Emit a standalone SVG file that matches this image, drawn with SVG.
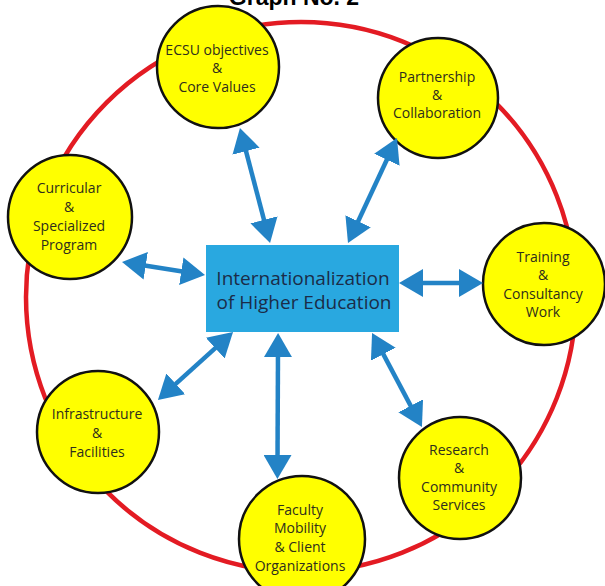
<svg xmlns="http://www.w3.org/2000/svg" width="605" height="586" viewBox="0 0 605 586">
  <defs>
    <marker id="head" viewBox="0 0 24 28" markerUnits="userSpaceOnUse" markerWidth="24" markerHeight="28" refX="6" refY="14" orient="auto-start-reverse">
      <path d="M0,0 L24,14 L0,28 Z" fill="#2383c6"/>
    </marker>
    <style>
      .title { font-family: "Liberation Sans", Arial, sans-serif; font-weight: bold; font-size: 23px; fill: #000; }
      .ring { fill: none; stroke: #e31b23; stroke-width: 4.5; }
      .link { stroke: #2383c6; stroke-width: 4.5; fill: none; marker-start: url(#head); marker-end: url(#head); }
      .hub { fill: #29a8e0; }
      .hub-text { font-family: "Open Sans", "DejaVu Sans", sans-serif; font-size: 19px; fill: #1b2c48; text-anchor: middle; }
      .node circle { fill: #ffff00; stroke: #111; stroke-width: 2.5; }
      .node text { font-family: "Open Sans", "DejaVu Sans", sans-serif; font-size: 14px; fill: #2e2e1c; text-anchor: middle; }
    </style>
  </defs>

  <rect width="605" height="586" fill="#fff"/>

  <text class="title" x="294" y="5" text-anchor="middle">Graph No. 2</text>

  <!-- outer ring -->
  <circle class="ring" cx="301" cy="297" r="275"/>

  <!-- central hub -->
  <g id="hub">
    <rect class="hub" x="206" y="245" width="193" height="87"/>
    <text class="hub-text" x="303" y="285">Internationalization</text>
    <text class="hub-text" x="304" y="309">of Higher Education</text>
  </g>

  <!-- surrounding nodes -->
  <g id="ecsu" class="node">
    <circle cx="218" cy="67" r="61"/>
    <text x="217" y="55">ECSU objectives</text>
    <text x="217" y="73">&amp;</text>
    <text x="217" y="92">Core Values</text>
  </g>

  <g id="partnership" class="node">
    <circle cx="438" cy="98" r="60"/>
    <text x="437" y="82">Partnership</text>
    <text x="437" y="100">&amp;</text>
    <text x="437" y="118">Collaboration</text>
  </g>

  <g id="training" class="node">
    <circle cx="544" cy="284" r="61"/>
    <text x="543" y="262">Training</text>
    <text x="543" y="280">&amp;</text>
    <text x="543" y="299">Consultancy</text>
    <text x="543" y="317">Work</text>
  </g>

  <g id="research" class="node">
    <circle cx="460" cy="478" r="61"/>
    <text x="459" y="455">Research</text>
    <text x="459" y="473">&amp;</text>
    <text x="459" y="492">Community</text>
    <text x="459" y="510">Services</text>
  </g>

  <g id="faculty" class="node">
    <circle cx="302" cy="539" r="63"/>
    <text x="300" y="515">Faculty</text>
    <text x="300" y="533">Mobility</text>
    <text x="300" y="552">&amp; Client</text>
    <text x="300" y="571">Organizations</text>
  </g>

  <g id="infrastructure" class="node">
    <circle cx="98" cy="432" r="61"/>
    <text x="97" y="419">Infrastructure</text>
    <text x="97" y="438">&amp;</text>
    <text x="97" y="457">Facilities</text>
  </g>

  <g id="curricular" class="node">
    <circle cx="70" cy="217" r="62"/>
    <text x="69" y="193">Curricular</text>
    <text x="69" y="212">&amp;</text>
    <text x="69" y="231">Specialized</text>
    <text x="69" y="250">Program</text>
  </g>

  <!-- two-way connectors between hub and nodes -->
  <g id="connectors">
    <line class="link" x1="244.5" y1="145.4" x2="265.5" y2="225.6"/>
    <line class="link" x1="389.4" y1="154.3" x2="355.6" y2="226.7"/>
    <line class="link" x1="139.8" y1="264.8" x2="187.2" y2="272.2"/>
    <line class="link" x1="171.3" y1="387.9" x2="219.7" y2="344.1"/>
    <line class="link" x1="417" y1="283" x2="465" y2="283"/>
    <line class="link" x1="380.5" y1="348.9" x2="413.5" y2="411.1"/>
    <line class="link" x1="278" y1="351" x2="277.5" y2="461"/>
  </g>
</svg>
